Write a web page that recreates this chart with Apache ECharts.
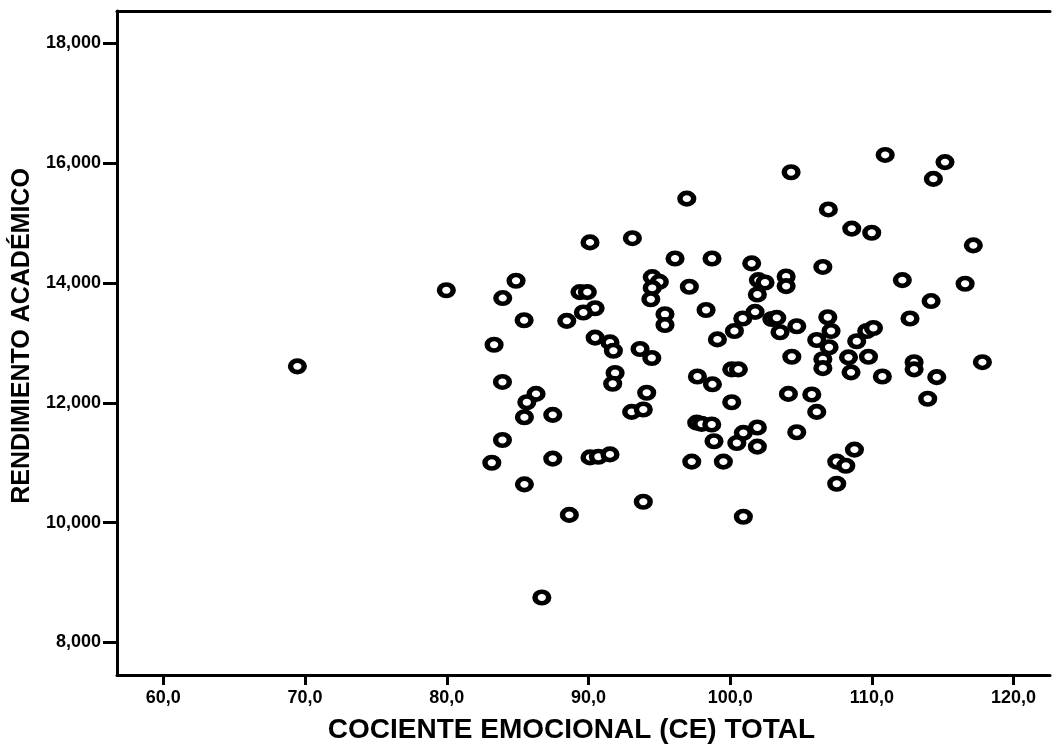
<!DOCTYPE html>
<html>
<head>
<meta charset="utf-8">
<script src="https://cdn.jsdelivr.net/npm/echarts@6/dist/echarts.min.js"></script>
<style>
html,body{margin:0;padding:0;background:#fff;}
#chart{width:1058px;height:749px;}
</style>
</head>
<body>
<div id="chart"></div>
<script>
// CE total (x) values
const ceTotal = [
  69.46, 79.97, 84.89, 83.95, 85.46, 83.34, 83.93, 90.11, 93.10, 94.50,
  95.00, 94.50, 94.40, 89.40, 89.92, 90.47, 89.64, 88.47, 90.47, 91.52,
  91.76, 93.64, 94.47, 91.88, 91.71, 94.11, 93.05, 93.87, 86.30, 85.65,
  85.48, 87.48, 83.93, 83.18, 87.48, 90.11, 90.70, 91.52, 85.48, 93.87,
  88.65, 86.71, 110.94, 115.16, 114.34, 104.30, 96.94, 106.93, 108.58, 109.99,
  117.16, 106.54, 96.11, 98.72, 101.52, 97.12, 101.99, 102.46, 101.92, 103.95,
  103.95, 112.15, 116.58, 114.18, 112.69, 95.40, 95.40, 98.30, 99.10, 100.30,
  100.89, 101.76, 102.94, 103.29, 103.52, 104.70, 106.89, 107.12, 106.11, 106.98,
  109.64, 110.11, 108.93, 109.76, 108.35, 108.53, 106.54, 106.54, 104.35, 110.74,
  112.98, 112.98, 114.58, 117.80, 113.94, 97.69, 98.75, 100.11, 100.58, 100.11,
  104.11, 105.76, 106.11, 97.64, 97.99, 98.70, 98.86, 97.29, 99.52, 100.47,
  100.93, 101.92, 101.92, 104.70, 108.77, 107.52, 108.16, 107.52, 100.93
];
// Rendimiento académico (y) values
const rendimiento = [
  12.61, 13.88, 14.04, 13.75, 13.38, 12.97, 12.35, 14.68, 14.75, 14.10,
  14.02, 13.92, 13.73, 13.85, 13.85, 13.58, 13.51, 13.37, 13.09, 13.01,
  12.87, 12.90, 12.75, 12.50, 12.32, 12.17, 11.85, 11.89, 12.15, 12.01,
  11.76, 11.80, 11.38, 11.00, 11.07, 11.09, 11.10, 11.14, 10.64, 10.35,
  10.13, 8.75, 16.14, 16.02, 15.74, 15.85, 15.41, 15.23, 14.91, 14.84,
  14.63, 14.27, 14.41, 14.41, 14.33, 13.94, 14.05, 14.01, 13.81, 14.11,
  13.95, 14.05, 13.99, 13.70, 13.41, 13.48, 13.30, 13.55, 13.06, 13.20,
  13.41, 13.52, 13.40, 13.42, 13.18, 13.28, 13.43, 13.20, 13.05, 12.93,
  13.20, 13.25, 13.03, 12.77, 12.76, 12.51, 12.73, 12.58, 12.77, 12.44,
  12.68, 12.56, 12.43, 12.68, 12.07, 12.44, 12.31, 12.56, 12.56, 12.01,
  12.15, 12.14, 11.85, 11.67, 11.65, 11.64, 11.36, 11.02, 11.02, 11.33,
  11.50, 11.59, 11.27, 11.51, 11.22, 11.02, 10.95, 10.65, 10.10
];
const xTicks = [60, 70, 80, 90, 100, 110, 120];
const yTicks = [8, 10, 12, 14, 16, 18];

const points = ceTotal.map((x, i) => [x, rendimiento[i]]);
const FONT = '"Liberation Sans", Arial, sans-serif';

const chart = echarts.init(document.getElementById('chart'), null, {renderer: 'canvas'});
chart.setOption({
  backgroundColor: '#ffffff',
  animation: false,
  grid: {left: 117, right: 8, top: 11, bottom: 71, containLabel: false},
  xAxis: [{
    type: 'value',
    min: 56.73, max: 122.57,
    name: 'COCIENTE EMOCIONAL (CE) TOTAL',
    nameLocation: 'middle',
    nameGap: 41,
    nameTextStyle: {fontFamily: FONT, fontWeight: 'bold', fontSize: 28, color: '#000', verticalAlign: 'top', padding: [0, 24, 0, 0]},
    splitLine: {show: false},
    axisLine: {show: true, onZero: false, lineStyle: {color: '#000', width: 3}},
    axisTick: {show: true, inside: false, length: 10, lineStyle: {color: '#000', width: 3}, customValues: xTicks},
    axisLabel: {
      show: true, margin: 14, color: '#000', fontFamily: FONT, fontWeight: 'bold', fontSize: 18,
      customValues: xTicks,
      formatter: v => v.toFixed(1).replace('.', ',')
    }
  }, {
    type: 'value', position: 'top',
    min: 56.73, max: 122.57,
    splitLine: {show: false},
    axisLine: {show: true, onZero: false, lineStyle: {color: '#000', width: 3}},
    axisTick: {show: false},
    axisLabel: {show: false}
  }],
  yAxis: {
    type: 'value',
    min: 7.457, max: 18.543,
    name: 'RENDIMIENTO ACADÉMICO',
    nameLocation: 'middle',
    nameGap: 82,
    nameRotate: 90,
    nameTextStyle: {fontFamily: FONT, fontWeight: 'bold', fontSize: 25, color: '#000', padding: [0, 0, 0, 14]},
    splitLine: {show: false},
    axisLine: {show: true, onZero: false, lineStyle: {color: '#000', width: 3}},
    axisTick: {show: true, inside: false, length: 14, lineStyle: {color: '#000', width: 3}, customValues: yTicks},
    axisLabel: {
      show: true, margin: 16, color: '#000', fontFamily: FONT, fontWeight: 'bold', fontSize: 18,
      customValues: yTicks,
      formatter: v => v.toFixed(3).replace('.', ',')
    }
  },
  series: [{
    type: 'scatter',
    data: points,
    symbol: 'circle',
    symbolSize: [13.7, 11.5],
    itemStyle: {color: '#ffffff', borderColor: '#000000', borderWidth: 5, opacity: 1},
    emphasis: {disabled: true}
  }]
});
</script>
</body>
</html>
